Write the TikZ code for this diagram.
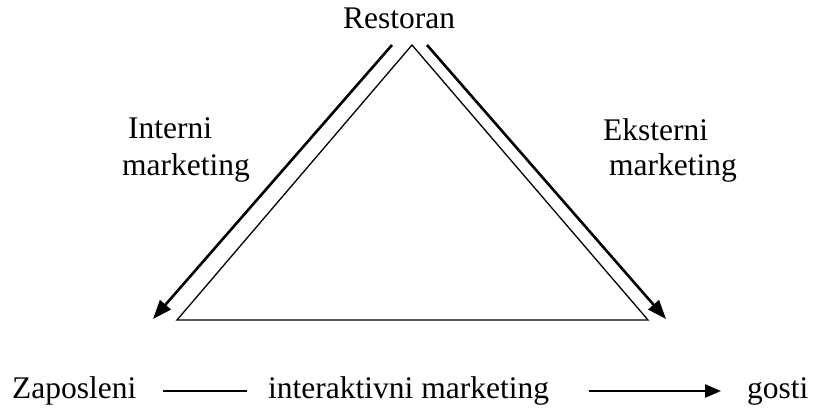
\documentclass[tikz,border=0pt]{standalone}
\usepackage{fontspec}
\setmainfont{Liberation Serif}
\usetikzlibrary{arrows.meta}
\begin{document}
\begin{tikzpicture}[x=1pt,y=-1pt,
  lbl/.style={inner sep=0pt,anchor=base west,font=\fontsize{31.5}{36}\selectfont},
  thin edge/.style={line width=1.3pt,line join=miter},
  flow/.style={line width=2.6pt,-{Triangle[length=19pt,width=14pt]}},
  link/.style={line width=2pt}]
\useasboundingbox (0,0) rectangle (813,409);

% triangle corners
\coordinate (top) at (412,45);
\coordinate (bl) at (177,320);
\coordinate (br) at (648,320);
\draw[thin edge] (top) -- (br) -- (bl) -- cycle;

% arrows running down along the sides
\coordinate (ls) at (392,45);
\coordinate (le) at (153,319);
\coordinate (rs) at (427,45);
\coordinate (re) at (666,319);
\draw[flow] (ls) -- (le);
\draw[flow] (rs) -- (re);

% labels
\node[lbl] (rest) at (343,29) {Restoran};
\node[lbl] (int1) at (128,139) {Interni};
\node[lbl] (int2) at (122,175) {marketing};
\node[lbl] (ext1) at (603,140) {Eksterni};
\node[lbl] (ext2) at (609,175) {marketing};

% bottom row
\node[lbl] (zap) at (12,398) {Zaposleni};
\node[lbl] (inter) at (268,398) {interaktivni marketing};
\node[lbl] (gosti) at (747,398) {gosti};
\coordinate (a1) at (163,391);
\coordinate (a2) at (247,391);
\coordinate (b1) at (589,391);
\coordinate (b2) at (721,391);
\draw[link] (a1) -- (a2);
\draw[line width=2.4pt,-{Triangle[length=16pt,width=13pt]}] (b1) -- (b2);
\end{tikzpicture}
\end{document}
